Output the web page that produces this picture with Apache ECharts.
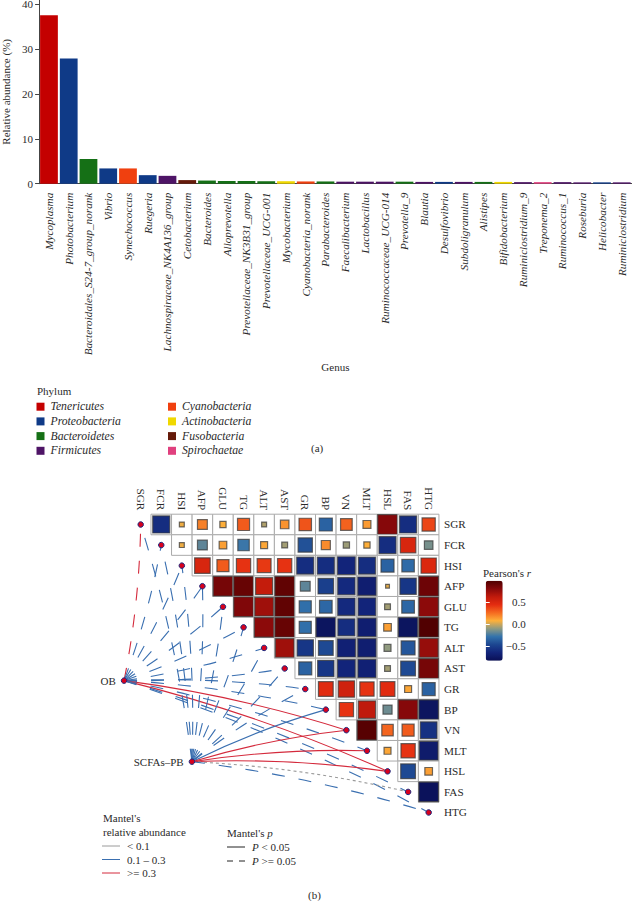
<!DOCTYPE html>
<html><head><meta charset="utf-8">
<style>html,body{margin:0;padding:0;background:#fff}#c{width:633px;height:901px}</style>
<script src="https://cdn.jsdelivr.net/npm/echarts@6/dist/echarts.min.js"></script>
</head><body><div id="c"></div>
<script>
const genera = ['Mycoplasma','Photobacterium','Bacteroidales_S24-7_group_norank','Vibrio','Synechococcus','Ruegeria','Lachnospiraceae_NK4A136_group','Cetobacterium','Bacteroides','Alloprevotella','Prevotellaceae_NK3B31_group','Prevotellaceae_UCG-001','Mycobacterium','Cyanobacteria_norank','Parabacteroides','Faecalibacterium','Lactobacillus','Ruminococcaceae_UCG-014','Prevotella_9','Blautia','Desulfovibrio','Subdoligranulum','Alistipes','Bifidobacterium','Ruminiclostridium_9','Treponema_2','Ruminococcus_1','Roseburia','Helicobacter','Ruminiclostridium'];
const abundance = [37.5,27.9,5.5,3.4,3.4,1.9,1.75,0.8,0.7,0.6,0.6,0.55,0.55,0.5,0.5,0.45,0.45,0.45,0.45,0.4,0.4,0.4,0.4,0.4,0.35,0.35,0.35,0.3,0.3,0.3];
const genusPhylum = ['Tenericutes','Proteobacteria','Bacteroidetes','Proteobacteria','Cyanobacteria','Proteobacteria','Firmicutes','Fusobacteria','Bacteroidetes','Bacteroidetes','Bacteroidetes','Bacteroidetes','Actinobacteria','Cyanobacteria','Bacteroidetes','Firmicutes','Firmicutes','Firmicutes','Bacteroidetes','Firmicutes','Proteobacteria','Firmicutes','Bacteroidetes','Actinobacteria','Firmicutes','Spirochaetae','Firmicutes','Firmicutes','Proteobacteria','Firmicutes'];
const phyla = ['Tenericutes','Proteobacteria','Bacteroidetes','Firmicutes','Cyanobacteria','Actinobacteria','Fusobacteria','Spirochaetae'];
const phylumColors = ['#c40000','#0f3a87','#157016','#4e1466','#f0400f','#f0d800','#651a0a','#e0407e'];

const variables = ['SGR','FCR','HSI','AFP','GLU','TG','ALT','AST','GR','BP','VN','MLT','HSL','FAS','HTG'];
// upper triangle of Pearson's r: each row starts at the cell right of the diagonal
const rSGR = [-0.6,0.05,0.2,0.08,0.3,-0.05,0.15,0.32,-0.35,0.28,0.13,0.8,-0.6,0.36];
const rFCR = [0.05,-0.2,0.12,-0.27,0.1,-0.07,-0.42,0.17,-0.08,0.08,-0.6,0.5,-0.15];
const rHSI = [0.5,0.3,0.42,0.4,0.42,-0.6,-0.6,-0.65,-0.6,-0.35,-0.32,0.48];
const rAFP = [0.85,0.9,0.6,0.92,-0.2,-0.5,-0.62,-0.7,0.03,-0.55,0.88];
const rGLU = [0.82,0.72,0.92,-0.3,-0.33,-0.62,-0.65,-0.07,-0.33,0.78];
const rTG = [0.78,0.9,-0.3,-0.78,-0.6,-0.7,0.12,-0.78,0.97];
const rALT = [0.72,-0.55,-0.45,-0.68,-0.7,-0.1,-0.4,0.75];
const rAST = [-0.35,-0.55,-0.65,-0.68,-0.07,-0.45,0.85];
const rGR = [0.45,0.55,0.42,0.45,0.1,-0.35];
const rBP = [0.42,0.62,-0.17,0.8,-0.78];
const rVN = [0.95,0.27,0.3,-0.58];
const rMLT = [0.1,0.42,-0.72];
const rHSL = [-0.45,0.12];
const rFAS = [-0.8];
const corrRows = [rSGR,rFCR,rHSI,rAFP,rGLU,rTG,rALT,rAST,rGR,rBP,rVN,rMLT,rHSL,rFAS];

// Mantel's statistics for each environmental variable, in the order of `variables`
const obMantelR =   [0.33,0.2,0.2,0.2,0.2,0.2,0.2,0.2,0.2,0.2,0.35,0.2,0.36,0.2,0.2];
const obMantelP =   [0.2,0.3,0.3,0.3,0.3,0.3,0.3,0.3,0.3,0.3,0.01,0.3,0.01,0.3,0.3];
const scfaMantelR = [0.2,0.2,0.2,0.2,0.2,0.2,0.2,0.2,0.2,0.25,0.35,0.36,0.33,0.08,0.2];
const scfaMantelP = [0.3,0.3,0.3,0.3,0.3,0.3,0.3,0.3,0.3,0.02,0.01,0.01,0.01,0.3,0.3];

const serif = '"Liberation Serif","DejaVu Serif",serif';
const ink = '#2a2a2a';
const CELL = 20.57;

const barSeries = phyla.map((p,i)=>({
  name:p, type:'bar', stack:'all', barWidth:'90%', xAxisIndex:0, yAxisIndex:0,
  itemStyle:{color:phylumColors[i]},
  data:abundance.map((v,k)=>genusPhylum[k]===p?v:null)
}));

const cells=[];
corrRows.forEach((row,r)=>row.forEach((v,k)=>cells.push([r+1+k,r,v])));

function renderCell(params,api){
  const c=api.coord([api.value(0),api.value(1)]);
  const v=api.value(2);
  const side=Math.min(CELL-1,Math.sqrt(Math.abs(v))*22);
  return {type:'group',children:[
    {type:'rect',shape:{x:c[0]-CELL/2,y:c[1]-CELL/2,width:CELL,height:CELL},style:{fill:'#fff',stroke:'#aaaaaa',lineWidth:1}},
    {type:'rect',shape:{x:c[0]-side/2,y:c[1]-side/2,width:side,height:side},style:{fill:api.visual('color'),stroke:'rgba(60,60,60,0.75)',lineWidth:1.2}}
  ]};
}

const sources=[{name:'OB',at:[-0.81,7.59],r:obMantelR,p:obMantelP},{name:'SCFAs–PB',at:[2.49,11.53],r:scfaMantelR,p:scfaMantelP}];
function link(s,i){
  const r=s.r[i],p=s.p[i];
  const color=r<0.1?'#9a9a9a':r<0.3?'#3a6fb0':'#d42a3c';
  const type=p<0.05?'solid':(r<0.1?[3,3]:[13,14]);
  return {coords:[s.at,[i,i]],lineStyle:{color,type,width:1.1,opacity:1,curveness:i<=7?-0.045:0.045}};
}
const links=[];
sources.forEach(s=>variables.forEach((v,i)=>links.push(link(s,i))));

const title=(text,left,top,extra)=>({text,left,top,padding:0,textStyle:Object.assign({fontFamily:serif,fontSize:11,fontWeight:'normal',color:ink,lineHeight:14},extra||{})});
const richItalic={a:{fontFamily:serif,fontSize:11,color:ink},i:{fontFamily:serif,fontSize:11,fontStyle:'italic',color:ink}};

const legendBase={orient:'vertical',icon:'rect',itemWidth:8,itemHeight:8,itemGap:2.7,padding:0,selectedMode:false,
  textStyle:{fontFamily:serif,fontStyle:'italic',fontSize:11.7,color:ink,padding:[0,0,0,1]}};

const option={
  animation:false,backgroundColor:'#fff',
  title:[
    title('Phylum',37,384),
    title('(a)',311,441),
    title('(b)',308,888),
    title("{a|Pearson's }{i|r}",483,566,{rich:richItalic}),
    title("Mantel's\nrelative abundance",103,811),
    title("{a|Mantel's }{i|p}",227,826,{rich:richItalic}),
    title('< 0.1',127,839),
    title('0.1 – 0.3',127,852.5),
    title('>= 0.3',127,866),
    title('{i|P} {a|< 0.05}',252,840,{rich:richItalic}),
    title('{i|P} {a|>= 0.05}',252,854,{rich:richItalic})
  ],
  legend:[
    Object.assign({},legendBase,{left:36.5,top:400.7,data:phyla.slice(0,4)}),
    Object.assign({},legendBase,{left:168,top:400.7,data:phyla.slice(4)})
  ],
  grid:[
    {left:39.1,top:0,width:592.5,height:183.7,containLabel:false,outerBoundsMode:'none'},
    {left:130.4,top:514.2,width:CELL*15,height:CELL*15,outerBoundsMode:'none'},
    {left:140.7-2*CELL,top:524.5-0.5*CELL,width:17*CELL,height:15.5*CELL,outerBoundsMode:'none'},
    {left:485.7,top:580.7,width:17,height:80,outerBoundsMode:'none'}
  ],
  xAxis:[
    {type:'category',gridIndex:0,data:genera,name:'Genus',nameLocation:'middle',nameGap:178,
      nameTextStyle:{fontFamily:serif,fontSize:11,color:ink},
      axisLine:{lineStyle:{color:'#444'}},axisTick:{alignWithLabel:true,length:5,lineStyle:{color:'#444'}},
      axisLabel:{rotate:90,interval:0,margin:9,fontFamily:serif,fontStyle:'italic',fontSize:11.2,color:ink}},
    {type:'category',gridIndex:1,position:'top',data:variables,axisLine:{show:false},axisTick:{show:false},
      axisLabel:{rotate:90,interval:0,margin:4,fontFamily:serif,fontSize:11.2,color:ink}},
    {type:'value',gridIndex:2,min:-2,max:15,show:false},
    {type:'value',gridIndex:3,min:0,max:1,show:false}
  ],
  yAxis:[
    {type:'value',gridIndex:0,min:0,max:40.9,name:'Relative abundance (%)',nameLocation:'middle',nameGap:28,
      nameTextStyle:{fontFamily:serif,fontSize:11,color:ink},splitLine:{show:false},
      axisLine:{show:true,lineStyle:{color:'#444'}},
      axisTick:{show:true,length:4,lineStyle:{color:'#444'},customValues:[0,10,20,30,40]},
      axisLabel:{fontFamily:serif,fontSize:11,lineHeight:8,color:ink,margin:6,customValues:[0,10,20,30,40]}},
    {type:'category',gridIndex:1,position:'right',inverse:true,data:variables,axisLine:{show:false},axisTick:{show:false},
      axisLabel:{interval:0,margin:5,fontFamily:serif,fontSize:11.2,color:ink}},
    {type:'value',gridIndex:2,min:-0.5,max:15,inverse:true,show:false},
    {type:'value',gridIndex:3,position:'right',min:-0.83,max:0.98,z:10,splitLine:{show:false},axisLine:{show:false},
      axisTick:{show:true,inside:true,length:4,lineStyle:{color:'#fff'},customValues:[-0.5,0,0.5]},
      axisLabel:{align:'right',margin:23,fontFamily:serif,fontSize:11,color:ink,customValues:[-0.5,0,0.5],
        formatter:v=>v<0?'−'+Math.abs(v).toFixed(1):v.toFixed(1)}},
    {type:'value',gridIndex:3,position:'left',min:-0.83,max:0.98,z:10,splitLine:{show:false},axisLine:{show:false},
      axisTick:{show:true,inside:true,length:4,lineStyle:{color:'#fff'},customValues:[-0.5,0,0.5]},
      axisLabel:{show:false}}
  ],
  visualMap:[{type:'continuous',seriesIndex:phyla.length,dimension:2,min:-0.83,max:0.98,left:485.7,top:580.7,
    itemWidth:17,itemHeight:80,padding:0,calculable:false,hoverLink:false,show:true,text:null,showLabel:false,
    inRange:{color:['#0a0f55','#12247a','#1c4590','#3272ac','#8d9a82','#fdb03a','#f56a20','#e42c10','#c01a0c','#86080a','#4e0000']}}],
  series:barSeries.concat([
    {type:'custom',name:'Pearson',xAxisIndex:1,yAxisIndex:1,z:2,encode:{x:0,y:1},renderItem:renderCell,data:cells,silent:true},
    {type:'lines',coordinateSystem:'cartesian2d',xAxisIndex:2,yAxisIndex:2,z:3,silent:true,clip:false,data:links},
    {type:'scatter',xAxisIndex:2,yAxisIndex:2,z:4,silent:true,clip:false,symbolSize:5.5,
      itemStyle:{color:'#d8001c',borderColor:'#1d2a80',borderWidth:1,opacity:1},
      data:variables.map((v,i)=>[i,i])},
    {type:'scatter',xAxisIndex:2,yAxisIndex:2,z:4,silent:true,clip:false,symbolSize:5.5,
      itemStyle:{color:'#d8001c',borderColor:'#1d2a80',borderWidth:1,opacity:1},
      label:{show:true,position:'left',distance:5,formatter:'{b}',fontFamily:serif,fontSize:11,color:ink},
      data:sources.map(s=>({name:s.name,value:s.at}))}
  ]),
  graphic:[
    {type:'line',shape:{x1:102,y1:846,x2:120,y2:846},style:{stroke:'#9a9a9a',lineWidth:1}},
    {type:'line',shape:{x1:102,y1:859.5,x2:120,y2:859.5},style:{stroke:'#3a6fb0',lineWidth:1}},
    {type:'line',shape:{x1:102,y1:873,x2:120,y2:873},style:{stroke:'#d42a3c',lineWidth:1}},
    {type:'line',shape:{x1:227,y1:847,x2:245,y2:847},style:{stroke:'#222',lineWidth:1}},
    {type:'line',shape:{x1:227,y1:861,x2:245,y2:861},style:{stroke:'#222',lineWidth:1,lineDash:[6,6]}}
  ]
};
const chart=echarts.init(document.getElementById('c'),null,{renderer:'svg'});
chart.setOption(option);
</script></body></html>
